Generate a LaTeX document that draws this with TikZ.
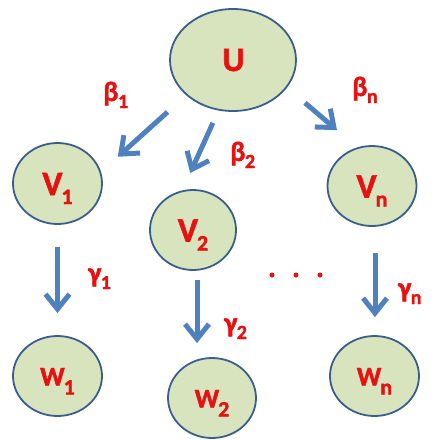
\documentclass[tikz,border=0pt]{standalone}
\usepackage{fontspec}
\setmainfont{Carlito}[BoldFont={Carlito Bold},BoldFeatures={FakeBold=1.6}]
\usetikzlibrary{arrows.meta,shapes.geometric}
\definecolor{fillg}{HTML}{D7E4BD}
\definecolor{edgeb}{HTML}{3A5E8C}
\definecolor{arrb}{HTML}{4F81BD}
\definecolor{txtr}{HTML}{E81010}
\newcommand{\NT}[4]{\raisebox{-#4pt}[0pt][0pt]{\fontsize{#1}{#1}\selectfont\bfseries #2\kern-1pt\raisebox{-9pt}{\fontsize{22}{22}\selectfont\bfseries #3}}}
\newcommand{\GL}[2]{\fontsize{28}{28}\selectfont\bfseries #1\kern-0.5pt\raisebox{-7pt}{\fontsize{20}{20}\selectfont\bfseries #2}}
\begin{document}
\begin{tikzpicture}[x=1pt,y=-1pt,
  ell/.style={ellipse, draw=edgeb, fill=fillg, line width=1.8pt, inner sep=0pt, text=txtr},
  arr/.style={draw=arrb, line width=5pt, -{Straight Barb[length=15pt,width=24pt]}},
  lbl/.style={text=txtr, inner sep=0pt, anchor=base west},
  dot/.style={circle, fill=txtr, inner sep=0pt, minimum size=5pt}]
\useasboundingbox (0,0) rectangle (436,440);
% nodes
\node[ell, minimum width=126pt, minimum height=102pt] (U) at (233,60) {\NT{34}{U}{}{11}};
\node[ell, minimum width=89pt, minimum height=81pt] (V1) at (57.5,183.5) {\NT{34}{V}{1}{11.5}};
\node[ell, minimum width=86pt, minimum height=80pt] (V2) at (193,230) {\NT{34}{V}{2}{11.5}};
\node[ell, minimum width=89pt, minimum height=80pt] (Vn) at (372,186) {\NT{34}{V}{n}{11.5}};
\node[ell, minimum width=89pt, minimum height=80pt] (W1) at (57.5,376) {\NT{27}{W}{1}{9.5}};
\node[ell, minimum width=88pt, minimum height=80pt] (W2) at (212,398) {\NT{27}{W}{2}{9.5}};
\node[ell, minimum width=89pt, minimum height=80pt] (Wn) at (374.5,376) {\NT{27}{W}{n}{9.5}};
% arrows
\draw[arr, shorten <=25pt, shorten >=22.5pt] (U.217) -- (V1.15);
\draw[arr, shorten <=13.5pt, shorten >=19pt] (U.254) -- (V2.105);
\draw[arr, shorten <=23.5pt, shorten >=26.5pt] (U.333) -- (Vn.111);
\draw[arr, shorten <=22pt, shorten >=22pt] (V1.south) -- (W1.north);
\draw[arr, shorten <=9pt, shorten >=14pt] ([xshift=4pt]V2.south) -- ([xshift=4pt]V2.south |- W2.north);
\draw[arr, shorten <=26pt, shorten >=18pt] ([xshift=3pt]Vn.south) -- ([xshift=3pt]Vn.south |- Wn.north);
% labels
\node[lbl] (b1) at (103,101) {\GL{β}{1}};
\node[lbl] (b2) at (230,161) {\GL{β}{2}};
\node[lbl] (bn) at (352,96) {\GL{β}{n}};
\node[lbl] (g1) at (88,282) {\GL{γ}{1}};
\node[lbl] (g2) at (224,332) {\GL{γ}{2}};
\node[lbl] (gn) at (398,297) {\GL{γ}{n}};
% dots
\node[dot] (d1) at (272,275) {};
\node[dot] (d2) at (296,275) {};
\node[dot] (d3) at (320,275) {};
\end{tikzpicture}
\end{document}
